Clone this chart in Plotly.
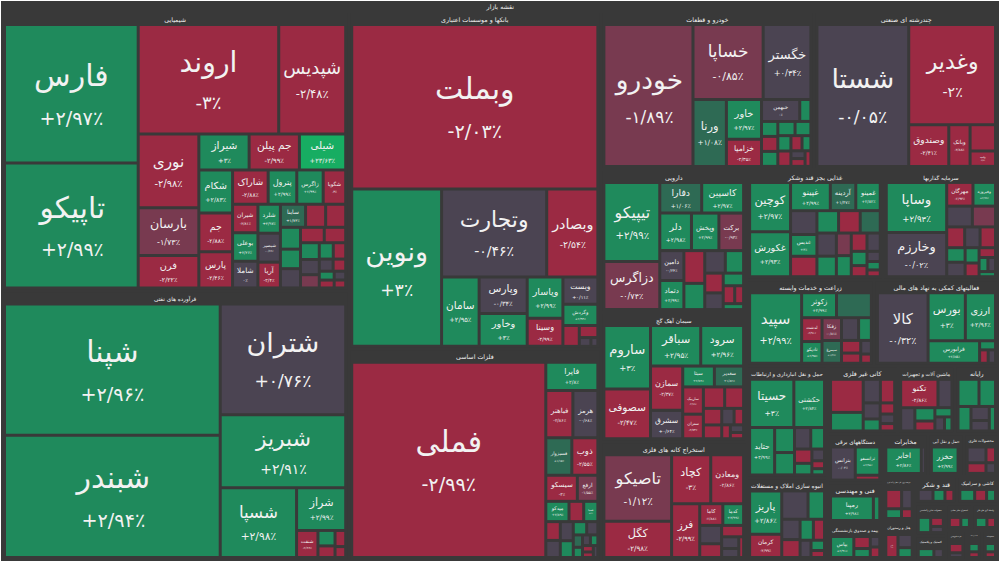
import math
import plotly.graph_objects as go

ROOT = "نقشه بازار"

# ---- sector data: names (blank = unlabeled tile), size weights, daily change % ----
chem_header = "شیمیایی"
chem_names = ["فارس", "تاپیکو", "اروند", "شپدیس", "نوری", "بارسان", "فرن", "شیراز", "جم پیلن", "شیلی",
              "شکام", "جم", "پارس", "شاراک", "پترول", "زاگرس", "شگویا", "شیران", "بوعلی", "شاملا",
              "شلرد", "شبصیر", "آریا", "ساینا"] + [""] * 18
chem_sizes = [18200, 16400, 15100, 7200, 4400, 2850, 1930, 1780, 1780, 1640, 1430, 1280, 1200, 1200, 965, 890,
              760, 710, 710, 665, 640, 640, 570, 570,
              455, 455, 430, 385, 380, 360, 325, 310, 280, 245, 225, 200, 165, 150, 130, 115, 100, 90]
chem_changes = [2.97, 2.99, -3, -2.48, -2.98, -1.73, -2.22, 3, -2.99, 23.63, 2.83, -2.88, -2.46, -2.88, 2.99,
                2.99, -3, -2.81, 2.26, 0, 2.97, -0.66, -2.4, 1.73,
                -2.5, -2.9, 2.9, 2.5, 0.2, -2.8, -2.9, 2.8, 0.1, -1.2, 2.9, -2.7, -0.3, -2.9, 2.7, -2.2, 0.3, -2.9]

oil_header = "فرآورده های نفتی"
oil_names = ["شپنا", "شبندر", "شتران", "شبریز", "شسپا", "شراز", "شنفت", "", "", "", ""]
oil_sizes = [27900, 25950, 13700, 9000, 5250, 2070, 570, 260, 195, 170, 115]
oil_changes = [2.96, 2.94, 0.76, 2.91, 2.98, 2.99, -2.66, 2.9, -2.8, -2.5, -2.9]

bank_header = "بانکها و موسسات اعتباری"
bank_names = ["وبملت", "ونوین", "وتجارت", "وبصادر", "سامان", "وپارس", "وخاور", "وپاسار", "وسینا", "وبست",
              "وگردش", "", "", "", ""]
bank_sizes = [39600, 13850, 9060, 4410, 2550, 1720, 1545, 1440, 985, 930, 730, 335, 220, 100, 60]
bank_changes = [-2.03, 3, -0.46, -2.54, 2.95, -0.34, 3, 2.99, -2.99, 0.11, 2.94, -2.9, -2.7, 0.2, -0.1]

metal_header = "فلزات اساسی"
metal_names = ["فملی", "فایرا", "فباهنر", "هرمز", "فسبزوار", "ذوب", "سیسکو", "ارفع", "میدکو", "فسپا"] + [""] * 14
metal_sizes = [38200, 1480, 1290, 1190, 985, 985, 830, 540, 475, 290,
               300, 275, 250, 250, 220, 180, 150, 115, 95, 85, 80, 70, 60, 55]
metal_changes = [-2.99, 2.8, -2.86, -0.68, 1.15, -2.55, -3, -1.55, 2.89, 3,
                 -2.9, -2.8, 0.3, -0.2, 2.9, 2.8, 0.1, 1.5, 2.5, 0.4, 2.9, -2.9, -2.5, 0.2]

auto_header = "خودرو و قطعات"
auto_names = ["خودرو", "خساپا", "خگستر", "ورنا", "خاور", "خزامیا", "خبهمن"] + [""] * 13
auto_sizes = [13180, 5480, 3730, 2330, 1460, 990, 875,
              255, 255, 255, 255, 255, 235, 210, 210, 175, 140, 115, 115, 95]
auto_changes = [-1.89, -0.85, 0.34, 1.08, 2.97, -2.35, 0,
                2.9, 2.8, -2.9, 2.9, 2.7, 2.9, 2.8, -2.9, -2.5, 2.9, 0.3, -2.8, -2.2]

multi_header = "چندرشته ای صنعتی"
multi_names = ["شستا", "وغدیر", "وصندوق", "وبانک", "", "وامید"]
multi_sizes = [13640, 9100, 1750, 930, 700, 410]
multi_changes = [-0.05, -2, -2.41, -2.88, -2.9, -2.4]

pharma_header = "دارویی"
pharma_names = ["تیپیکو", "دزاگرس", "دفارا", "کاسپین", "دلر", "وپخش", "برکت", "دامین", "دتماد"] + [""] * 10
pharma_sizes = [4730, 2870, 1375, 1375, 1270, 1100, 990, 770, 750,
                730, 585, 495, 440, 390, 330, 275, 220, 170, 130]
pharma_changes = [2.99, -0.74, 1.06, 2.97, 2.98, 2.99, -0.93, -0.34, 2.99,
                  -2.9, 2.9, -0.3, 2.9, -2.8, -0.5, 2.8, -2.9, -2.7, 2.5]

food_header = "غذایی بجز قند وشکر"
food_names = ["کوچین", "غکورش", "غپینو", "آردینه", "غمینو", "غدیس"] + [""] * 16
food_sizes = [2250, 2050, 1250, 800, 770, 640,
              700, 600, 540, 540, 500, 500, 445, 375, 350, 320, 270, 250, 195, 150, 125, 100]
food_changes = [2.97, 2.93, 2.99, 1.47, 2.82, 3,
                0.2, -2.9, 2.8, -2.8, 1.2, 0.3, 2.9, -1.2, 2.9, -2.9, 0.1, 2.6, -2.9, -0.6, 2.9, -2.8]

invest_header = "سرمایه گذاریها"
invest_names = ["وساپا", "وخارزم", "مهرگان", "وفیروزه"] + [""] * 13
invest_sizes = [3400, 3000, 700, 600, 600, 540, 420, 360, 360, 300, 300, 240, 215, 180, 140, 120, 95]
invest_changes = [2.93, -0.02, -2.93, 2.99, -0.3, -1.1, -2.9, 0.2, -2.8, 2.9, -0.2, 2.9, -2.7, -2.9, 2.5, -0.4, 2.9]

cement_header = "سیمان آهک گچ"
cement_names = ["ساروم", "سصوفی", "سباقر", "سرود", "سمازن", "سشرق", "سیتا", "ستران", "ساربیک", "سغدیر"] + [""] * 9
cement_sizes = [3200, 2520, 2200, 1880, 1545, 990, 715, 550, 610, 660,
                495, 440, 330, 275, 220, 170, 130, 110, 90]
cement_changes = [3, -2.47, 2.95, 2.96, -2.37, 0.64, 2.76, -2.73, -2.99, 1.82,
                  -2.9, -2.5, -2.8, -2.9, 0.3, -2.7, -2.9, -0.4, -2.6]

mining_header = "استخراج کانه های فلزی"
mining_names = ["تاصیکو", "کگل", "کچاد", "ومعادن", "فرز", "کاما", "کدما"] + [""] * 6
mining_sizes = [4935, 2700, 2100, 1765, 1660, 550, 495, 440, 330, 275, 220, 170, 110]
mining_changes = [-1.12, -2.98, -3, -2.86, -2.99, -2.88, 2.99, 0.2, -2.8, -2.9, 0.1, -0.3, -2.7]

agri_header = "زراعت و خدمات وابسته"
agri_names = ["سپید", "زکوثر", "لدشت", "تادیکو", "زفکا", "سیمرغ"] + [""] * 7
agri_sizes = [4300, 1020, 570, 520, 520, 520, 1020, 455, 340, 285, 230, 170, 115]
agri_changes = [2.99, 2.99, -2.91, 2.95, -0.81, 1.37, 1.3, -0.3, 2.9, -2.8, -2.7, 0.2, -2.9]

finsvc_header = "فعالیتهای کمکی به نهاد های مالی"
finsvc_names = ["کالا", "بورس", "ارزی", "فرابورس", "", "", ""]
finsvc_sizes = [4200, 2100, 1700, 1360, 170, 135, 115]
finsvc_changes = [-0.32, 3, 2.96, 2.85, 2.9, -2.8, 0.2]

transport_header = "حمل و نقل انبارداری و ارتباطات"
transport_names = ["حسیتا", "حکشتی", "حتاید"] + [""] * 9
transport_sizes = [2450, 1700, 1360, 570, 510, 400, 340, 285, 230, 170, 115, 90]
transport_changes = [3, 2.84, 2.99, 2.9, 2.8, -0.3, 2.9, -2.9, 2.7, 0.4, -2.8, 2.9]

build_header = "انبوه سازی املاک و مستغلات"
build_names = ["پاریز", "کرمان"] + [""] * 9
build_sizes = [1700, 910, 910, 570, 455, 400, 340, 285, 230, 170, 115]
build_changes = [2.86, -2.99, -0.2, 2.9, -0.3, -2.8, 2.9, -2.9, 0.2, 2.7, -2.8]

nonmetal_header = "کانی غیر فلزی"
nonmetal_names = [""] * 9
nonmetal_sizes = [1410, 790, 530, 440, 355, 265, 210, 180, 140]
nonmetal_changes = [-2.8, 2.9, -0.5, -2.9, 0.2, 2.9, -2.7, 0.3, -2.8]

machine_header = "ماشین آلات و تجهیزات"
machine_names = ["تکنو"] + [""] * 7
machine_sizes = [1410, 530, 440, 355, 265, 210, 180, 140]
machine_changes = [-2.86, -0.3, 0.2, 2.9, -2.8, 2.9, -0.2, 2.8]

computer_header = "رایانه"
computer_names = [""] * 6
computer_sizes = [790, 620, 440, 355, 265, 210]
computer_changes = [2.9, 2.9, 2.8, -0.2, -0.3, 2.9]

electric_header = "دستگاههای برقی"
electric_names = ["بترانس", "ترانسفو", ""]
electric_sizes = [1240, 1050, 180]
electric_changes = [-0.02, 2.95, -2.9]

telecom_header = "مخابرات"
telecom_names = ["اخابر", ""]
telecom_sizes = [1580, 180]
telecom_changes = [2.86, 0.3]

water_header = "حمل و نقل آبی"
water_names = ["حخزر", ""]
water_sizes = [1240, 140]
water_changes = [2.99, -2.9]

metalprod_header = "محصولات فلزی"
metalprod_names = [""] * 4
metalprod_sizes = [530, 355, 265, 180]
metalprod_changes = [-0.3, -2.8, -2.9, 0.2]

eng_header = "فنی و مهندسی"
eng_names = ["رمپنا", ""]
eng_sizes = [1770, 265]
eng_changes = [2.98, 2.9]

ins_header = "بیمه و صندوق بازنشستگی"
ins_names = ["بپاس", "", "", "", ""]
ins_sizes = [880, 355, 265, 180, 180]
ins_changes = [2.91, -2.8, 2.9, 0.3, -2.9]

power_header = "عرضه برق، گاز، بخار و آب گرم"
power_names = [""] * 4
power_sizes = [530, 355, 265, 180]
power_changes = [-2.8, -0.3, 2.9, -2.7]

sugar_header = "قند و شکر"
sugar_names = [""] * 3
sugar_sizes = [440, 355, 265]
sugar_changes = [-0.3, 2.9, -2.8]

hotel_header = "هتل و رستوران"
hotel_names = ["بلان", "", ""]
hotel_sizes = [530, 355, 265]
hotel_changes = [-2.81, -0.3, 2.9]

foodprod_header = "محصولات غذایی و آشامیدنی"
foodprod_names = [""] * 3
foodprod_sizes = [440, 265, 180]
foodprod_changes = [2.9, -2.8, 0.2]

tile_header = "کاشی و سرامیک"
tile_names = [""] * 3
tile_sizes = [440, 355, 265]
tile_changes = [2.9, -2.8, 2.9]

rubber_header = "لاستیک و پلاستیک"
rubber_names = [""] * 2
rubber_sizes = [440, 265]
rubber_changes = [2.8, -0.3]

othermine_header = "استخراج سایر معادن"
othermine_names = [""] * 2
othermine_sizes = [355, 265]
othermine_changes = [-2.9, 2.8]

retail_header = "خرده فروشی"
retail_names = [""] * 2
retail_sizes = [355, 180]
retail_changes = [-2.9, 0.2]

broker_header = "واسطه گری های مالی"
broker_names = [""] * 2
broker_sizes = [355, 265]
broker_changes = [2.9, -2.8]

info_header = "اطلاعات و ارتباطات"
info_names = [""] * 2
info_sizes = [265, 180]
info_changes = [2.9, -2.8]

textile_header = "منسوجات"
textile_names = [""] * 2
textile_sizes = [265, 180]
textile_changes = [2.8, -2.9]

sectors = [
    (chem_header, chem_names, chem_sizes, chem_changes),
    (oil_header, oil_names, oil_sizes, oil_changes),
    (bank_header, bank_names, bank_sizes, bank_changes),
    (metal_header, metal_names, metal_sizes, metal_changes),
    (auto_header, auto_names, auto_sizes, auto_changes),
    (multi_header, multi_names, multi_sizes, multi_changes),
    (pharma_header, pharma_names, pharma_sizes, pharma_changes),
    (food_header, food_names, food_sizes, food_changes),
    (invest_header, invest_names, invest_sizes, invest_changes),
    (cement_header, cement_names, cement_sizes, cement_changes),
    (mining_header, mining_names, mining_sizes, mining_changes),
    (agri_header, agri_names, agri_sizes, agri_changes),
    (finsvc_header, finsvc_names, finsvc_sizes, finsvc_changes),
    (transport_header, transport_names, transport_sizes, transport_changes),
    (build_header, build_names, build_sizes, build_changes),
    (nonmetal_header, nonmetal_names, nonmetal_sizes, nonmetal_changes),
    (machine_header, machine_names, machine_sizes, machine_changes),
    (computer_header, computer_names, computer_sizes, computer_changes),
    (electric_header, electric_names, electric_sizes, electric_changes),
    (telecom_header, telecom_names, telecom_sizes, telecom_changes),
    (water_header, water_names, water_sizes, water_changes),
    (metalprod_header, metalprod_names, metalprod_sizes, metalprod_changes),
    (eng_header, eng_names, eng_sizes, eng_changes),
    (ins_header, ins_names, ins_sizes, ins_changes),
    (power_header, power_names, power_sizes, power_changes),
    (sugar_header, sugar_names, sugar_sizes, sugar_changes),
    (hotel_header, hotel_names, hotel_sizes, hotel_changes),
    (foodprod_header, foodprod_names, foodprod_sizes, foodprod_changes),
    (tile_header, tile_names, tile_sizes, tile_changes),
    (rubber_header, rubber_names, rubber_sizes, rubber_changes),
    (othermine_header, othermine_names, othermine_sizes, othermine_changes),
    (retail_header, retail_names, retail_sizes, retail_changes),
    (broker_header, broker_names, broker_sizes, broker_changes),
    (info_header, info_names, info_sizes, info_changes),
    (textile_header, textile_names, textile_sizes, textile_changes),
]

# ---- styling ----
BG = "#393939"
FA_DIGITS = str.maketrans("0123456789", "۰۱۲۳۴۵۶۷۸۹")


def fa_pct(p):
    s = f"{abs(p):.2f}".rstrip("0").rstrip(".")
    s = s.replace(".", "/").translate(FA_DIGITS)
    sign = "+" if p > 0 else ("-" if p < 0 else "")
    return sign + s + "٪"


def tile_color(p):
    if p >= 10:
        return "#17ad62"
    if p >= 2:
        return "#1f8a5c"
    if p >= 1:
        return "#2e6a54"
    if p > -0.7:
        return "#4b4452"
    if p > -2:
        return "#783a50"
    return "#9b2a43"


ids, labels, parents, values, texts, colors, fsizes = [], [], [], [], [], [], []
ids.append(ROOT); labels.append(ROOT); parents.append(""); values.append(0)
texts.append(f"<b>{ROOT}</b>"); colors.append(BG); fsizes.append(9)

for header, names, sizes, changes in sectors:
    ids.append(header); labels.append(header); parents.append(ROOT); values.append(0)
    texts.append(f"<b>{header}</b>"); colors.append(BG); fsizes.append(9)
    for i, (n, v, c) in enumerate(zip(names, sizes, changes)):
        ids.append(f"{header}|{i}")
        labels.append(n if n else " ")
        parents.append(header)
        values.append(v)
        colors.append(tile_color(c))
        r = math.sqrt(v)
        ls = min(30.0, max(0.23 * r, 3 + 0.18 * r))
        ps = max(5.0, ls * 0.64)
        fsizes.append(round(ls, 1))
        if n:
            texts.append(f"{n}<br><span style='font-size:{ps:.1f}px'>{fa_pct(c)}</span>")
        else:
            texts.append("")

fig = go.Figure(go.Treemap(
    ids=ids,
    labels=labels,
    parents=parents,
    values=values,
    text=texts,
    textinfo="text",
    textposition="middle center",
    textfont=dict(family="DejaVu Sans", size=fsizes, color="#f2f2f2"),
    marker=dict(colors=colors, line=dict(width=0), pad=dict(t=13, l=3, r=3, b=3)),
    tiling=dict(packing="squarify", squarifyratio=1, pad=3),
    pathbar=dict(visible=False),
    root=dict(color=BG),
    hoverinfo="skip",
    sort=True,
))

fig.update_layout(
    width=1000, height=562,
    margin=dict(l=0, r=0, t=0, b=0),
    paper_bgcolor=BG,
    plot_bgcolor=BG,
)

fig.write_html("out.html")
